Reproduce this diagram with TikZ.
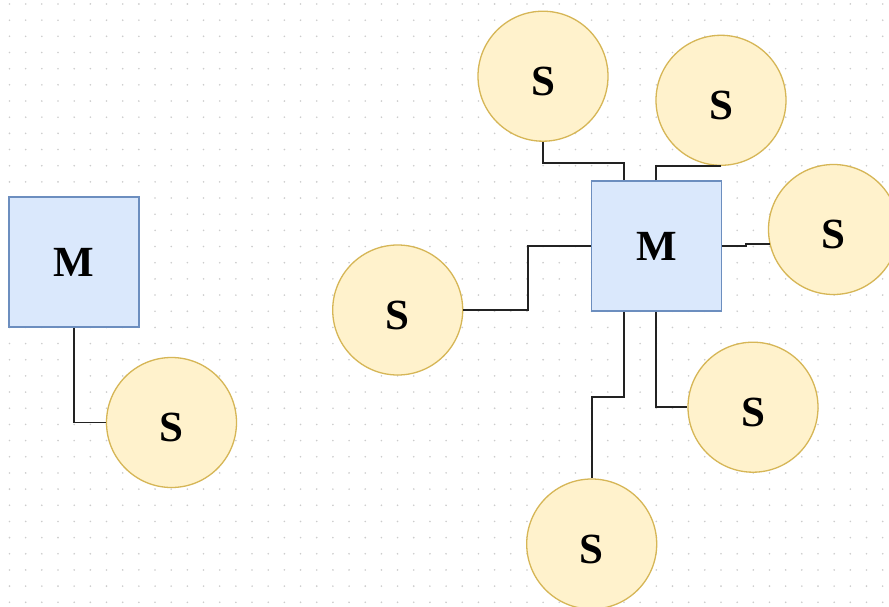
\documentclass[tikz,border=0pt]{standalone}
\usepackage{fontspec}
\setmainfont{Liberation Serif}
\usetikzlibrary{calc}
\definecolor{boxfill}{HTML}{DAE8FC}
\definecolor{boxline}{HTML}{6C8EBF}
\definecolor{cirfill}{HTML}{FFF2CC}
\definecolor{cirline}{HTML}{D6B656}
\definecolor{dotc}{HTML}{CCCCCC}
\definecolor{wirec}{HTML}{222222}
\tikzset{
  master/.style={draw=boxline, fill=boxfill, line width=1.5pt, minimum size=130pt, inner sep=0pt, font=\fontsize{43}{50}\selectfont\bfseries},
  slave/.style={circle, draw=cirline, fill=cirfill, line width=1.3pt, minimum size=130pt, inner sep=0pt, text height=38pt, text depth=0pt, font=\fontsize{43}{50}\selectfont\bfseries},
  wire/.style={draw=wirec, line width=1.7pt}
}
\begin{document}
\begin{tikzpicture}[x=1pt,y=-1pt]
\useasboundingbox (0,0) rectangle (889,607);
\clip (0,0) rectangle (889,607);
\fill[white] (0,0) rectangle (889,607);
% dot grid
\foreach \i in {0,...,55}{
  \foreach \j in {0,...,37}{
    \fill[dotc] ({9.5+16.17*\i},{4+16.17*\j}) circle (0.9pt);
  }
}
% left group
\node[master] (M1) at (74,262) {M};
\node[slave] (S0) at (171.5,422.5) {S};
% right group
\node[master] (M) at (656.7,246) {M};
\node[slave] (S1) at (543,76.2) {S};
\node[slave] (S2) at (721,100.3) {S};
\node[slave] (S3) at (833.5,229.5) {S};
\node[slave] (S4) at (397.7,310) {S};
\node[slave] (S5) at (753,407.2) {S};
\node[slave] (S6) at (591.7,544) {S};
\coordinate (mt1) at ($(M.north)+(-32.7,0)$);
\coordinate (mt2) at ($(M.north)+(-0.7,0)$);
\coordinate (mb1) at ($(M.south)+(-32.7,0)$);
\coordinate (mb2) at ($(M.south)+(-0.7,0)$);
% connectors
\draw[wire] (M1.south) |- (S0.west);
\draw[wire] (S1.south) -- ++(0,21) -| (mt1);
\draw[wire] (mt2) |- (S2.south);
\draw[wire] (M.east) -- ++(23.5,0) |- (S3.193);
\draw[wire] (S4.east) -- ++(64.3,0) |- (M.west);
\draw[wire] (mb2) |- (S5.west);
\draw[wire] (mb1) -- ++(0,85.3) -| (S6.north);
\end{tikzpicture}
\end{document}
